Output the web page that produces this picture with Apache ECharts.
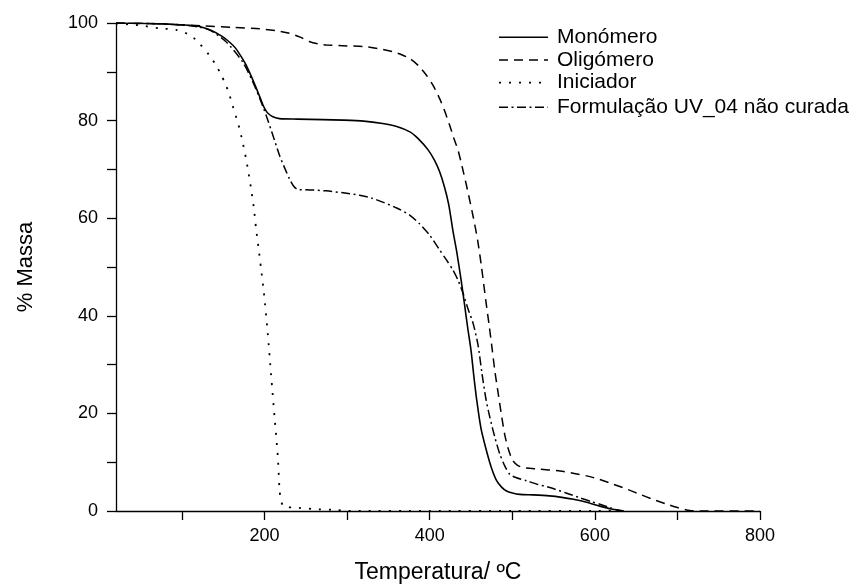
<!DOCTYPE html>
<html>
<head>
<meta charset="utf-8">
<script src="https://cdn.jsdelivr.net/npm/echarts@6/dist/echarts.min.js"></script>
<style>html,body{margin:0;padding:0;background:#fff}#c{width:859px;height:585px}</style>
</head>
<body>
<div id="c"></div>
<script>
var seriesNames = ['Monómero', 'Oligómero', 'Iniciador', 'Formulação UV_04 não curada'];
var xTickValues = [100, 200, 300, 400, 500, 600, 700, 800];
var xLabelValues = [200, 400, 600, 800];
var yLabelValues = [0, 20, 40, 60, 80, 100];

var monomero = [[20,100],[60,99.9],[100,99.6],[121,99.3],[135,98.5],[149,97.2],[158,96],[165,94.8],[172,93],[177.5,91.4],[184,89],[190,86.6],[195,84.5],[198,83.2],[201,82.2],[204,81.5],[210,80.8],[218,80.4],[240,80.3],[270,80.2],[295,80.1],[320,79.9],[343,79.4],[360,78.8],[376,77.7],[386,76.3],[398,74],[406,71.8],[412,69.5],[418,66.3],[423,62.8],[428,57.5],[433,52.8],[438,47.3],[442,42.5],[446,37.5],[450,32.9],[453.5,27.5],[457,22.6],[462,17],[468.8,12.3],[475,8.7],[481,6.2],[487,4.9],[493,4.1],[500,3.7],[509,3.4],[525,3.3],[545,3.1],[560,2.8],[574,2.4],[590,1.8],[606,1.0],[620,0.4],[635,0]];

var oligomero = [[20,100],[80,99.8],[125,99.4],[160,99.1],[194,98.8],[215,98.4],[230,97.9],[243,97.1],[254,96.2],[265,95.7],[275,95.5],[300,95.3],[319,95.2],[340,94.7],[355.5,94.1],[366,93.5],[376,92.7],[386,91.3],[396,89.3],[404,87.2],[412,84.5],[418,82],[424,79.1],[429,76.5],[434.5,73.8],[441,69.3],[447,64.8],[452.6,60.3],[458,55.5],[462.7,50],[468,43],[472,38],[475,34],[479,28.5],[483,24],[487,19.5],[491,15.5],[495,12.8],[500,10.5],[506,9.4],[513,8.9],[530,8.6],[558,8.2],[575,7.7],[590,7.2],[605,6.5],[622,5.5],[640,4.4],[655,3.4],[670,2.4],[687,1.4],[700,0.7],[715,0.1],[730,0],[800,0]];

var iniciador = [[20,99.9],[50,99.5],[72,98.9],[92.6,98.6],[110,97.5],[121,95.8],[133,93.4],[141,91.4],[147,89.5],[153,87.3],[157,85.5],[161,83.2],[165,81],[169.5,78.4],[173.5,75.5],[177.5,72.2],[180.5,69.3],[183.6,66.1],[187,62],[189.7,57.8],[192.7,53.8],[195.7,49.6],[199,44.9],[203.8,36.4],[207.9,27.8],[212,19.3],[216,11.1],[218,4.6],[219.5,2.3],[222,1.1],[224,0.8],[236,0.7],[260,0.4],[287,0.2],[300,0],[400,0],[500,0],[600,0],[640,0]];

var formulacao = [[20,100],[60,99.9],[100,99.6],[120,99.2],[133,98.6],[153,96.2],[173,92.1],[185.6,88],[195.8,83.8],[201.8,81.1],[210,77],[218,72.9],[225,70],[230,68.1],[235,66.6],[240,65.9],[255,65.8],[274.6,65.6],[295,65.2],[315,64.7],[330,64.1],[343,63.3],[360,62.1],[376,60.6],[388,58.8],[400,56.5],[412,53.5],[420,51.5],[428,49.4],[434,47.4],[440.4,44.6],[446,41.6],[452.6,38.4],[458.5,34],[463,28.5],[468,23],[472.8,19.2],[479,15],[485,11.6],[491,9.2],[497,7.5],[505,6.8],[517,6.2],[530,5.5],[545.6,4.8],[565,3.7],[582,2.7],[596,1.9],[606,1.4],[618,0.7],[630.6,0]];

var dataSets = [monomero, oligomero, iniciador, formulacao];
var lineTypes = ['solid', [9, 6], [2, 8], [9, 3.5, 2, 3.5]];
var lineWidths = [1.6, 1.5, 1.8, 1.5];

var chart = echarts.init(document.getElementById('c'), null, {renderer: 'canvas'});
var font = 'Liberation Sans, Arial, Helvetica, sans-serif';

var series = seriesNames.map(function (n, i) {
  return {
    name: n,
    type: 'line',
    data: dataSets[i],
    symbol: 'none',
    smooth: 0.25,
    lineStyle: {color: '#000', width: lineWidths[i], type: lineTypes[i]},
    itemStyle: {color: '#000'},
    animation: false
  };
});

// legend drawn as graphic elements
var legendRowsY = [37.3, 60, 82.7, 107.3];
var legendGraphics = [];
seriesNames.forEach(function (n, i) {
  var dash = lineTypes[i] === 'solid' ? null : lineTypes[i];
  legendGraphics.push({
    type: 'line',
    shape: {x1: 499, y1: legendRowsY[i], x2: 548, y2: legendRowsY[i]},
    style: {stroke: '#000', lineWidth: lineWidths[i], lineDash: dash},
    silent: true
  });
  legendGraphics.push({
    type: 'text',
    x: 557,
    y: legendRowsY[i],
    style: {text: n, fill: '#000', font: '21px ' + font, textVerticalAlign: 'middle', verticalAlign: 'middle'},
    silent: true
  });
});

chart.setOption({
  animation: false,
  backgroundColor: '#fff',
  grid: {left: 116, right: 99, top: 23, bottom: 74, containLabel: false, outerBoundsMode: 'none'},
  graphic: legendGraphics,
  xAxis: {
    type: 'value',
    min: 20,
    max: 800,
    name: 'Temperatura/ ºC',
    nameLocation: 'middle',
    nameGap: 50,
    nameTextStyle: {fontFamily: font, fontSize: 23, color: '#000'},
    axisLine: {show: true, onZero: false, lineStyle: {color: '#000', width: 1.3}},
    axisTick: {show: true, inside: false, length: 9, customValues: xTickValues, lineStyle: {color: '#000', width: 1.3}},
    axisLabel: {show: true, customValues: xLabelValues, margin: 16, fontFamily: font, fontSize: 18, color: '#000'},
    splitLine: {show: false}
  },
  yAxis: {
    type: 'value',
    min: 0,
    max: 100,
    interval: 10,
    name: '% Massa',
    nameLocation: 'middle',
    nameGap: 79,
    nameRotate: 90,
    nameTextStyle: {fontFamily: font, fontSize: 22, color: '#000'},
    axisLine: {show: true, lineStyle: {color: '#000', width: 1.3}},
    axisTick: {show: true, inside: false, length: 9, lineStyle: {color: '#000', width: 1.3}},
    axisLabel: {show: true, customValues: yLabelValues, margin: 18, fontFamily: font, fontSize: 18, color: '#000'},
    splitLine: {show: false}
  },
  series: series
});
</script>
</body>
</html>
